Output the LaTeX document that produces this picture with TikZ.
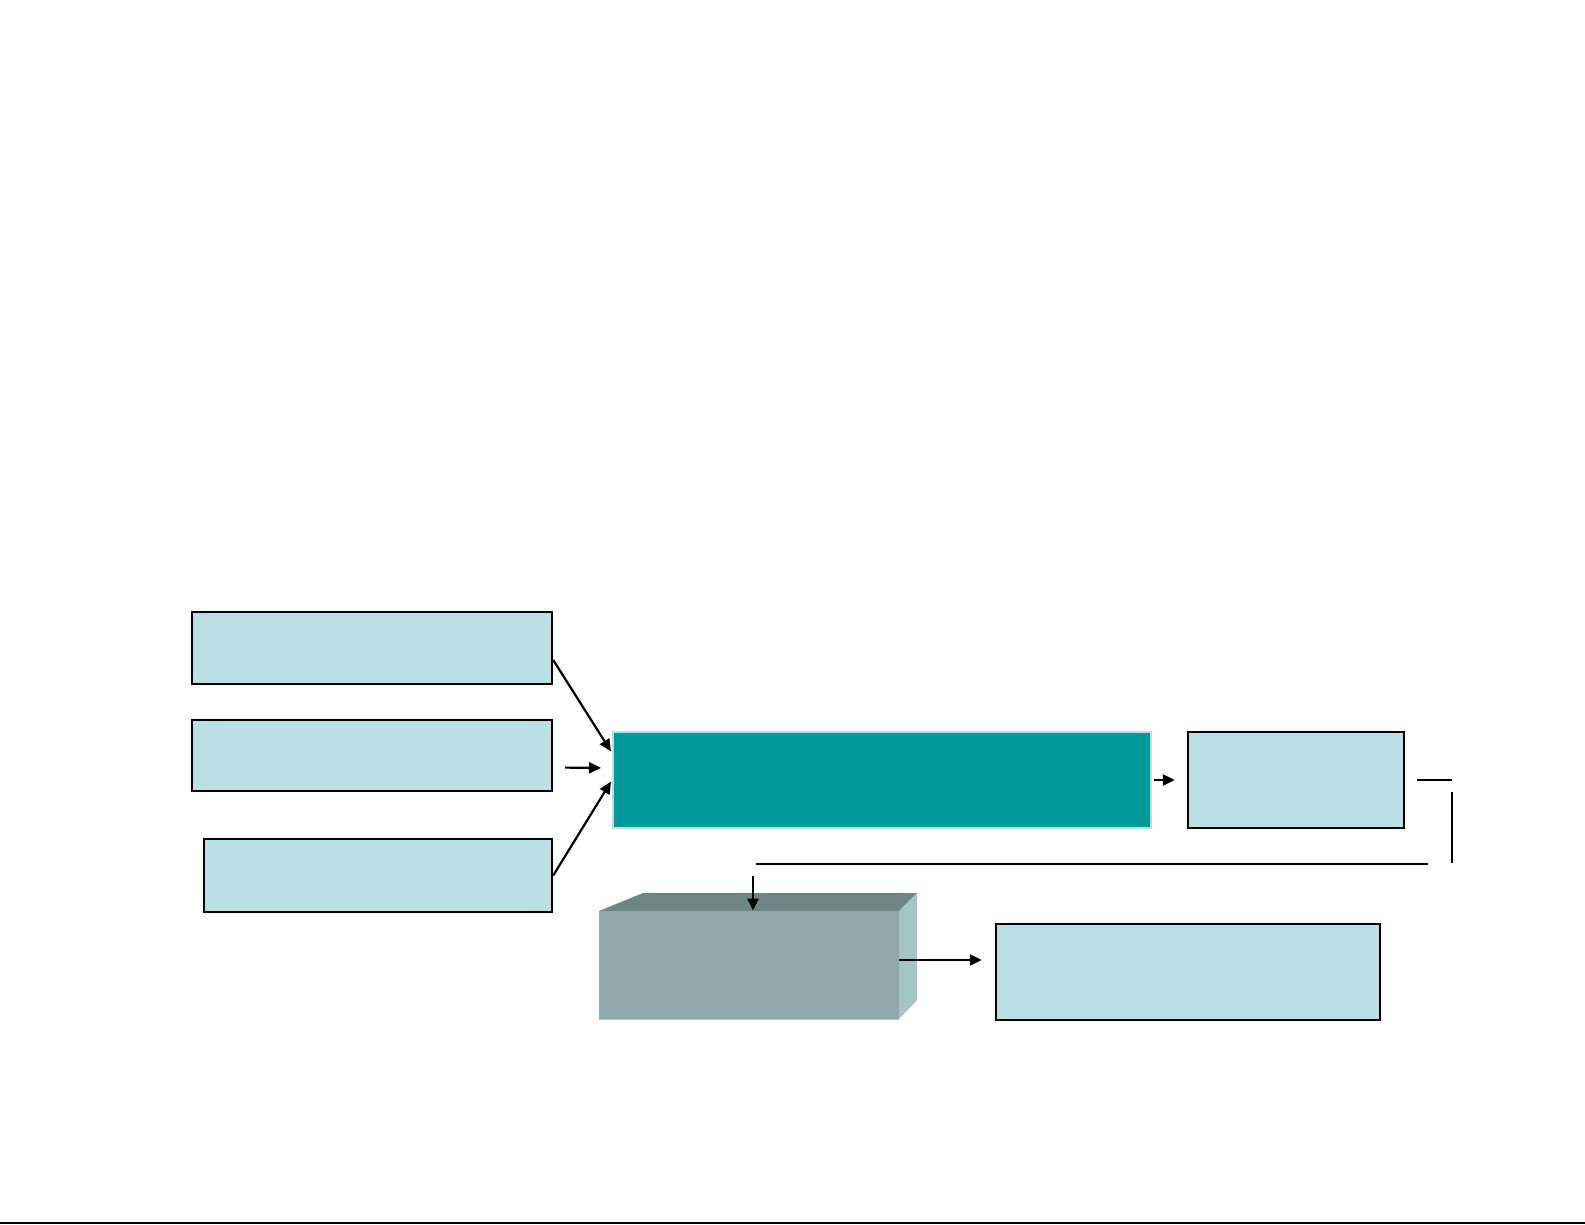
\documentclass[tikz,border=0pt]{standalone}
\usetikzlibrary{arrows.meta}
\definecolor{paleblue}{HTML}{BBE0E3}
\definecolor{tealfill}{HTML}{009999}
\definecolor{slatefront}{HTML}{91A9AC}
\definecolor{slatetop}{HTML}{708686}
\definecolor{slateside}{HTML}{A5C4C6}
\tikzset{
  inbox/.style={draw=black, line width=1.2pt, fill=paleblue, inner sep=0pt},
  arr/.style={line width=1.1pt, -{Triangle[length=6pt,width=5.5pt]}},
  plainline/.style={line width=1.1pt}
}
\begin{document}
\begin{tikzpicture}[x=0.5pt,y=-0.5pt]
\useasboundingbox (0,0) rectangle (1585,1225);
\fill[white] (0,0) rectangle (1585,1225);
\draw[line width=1.2pt] (0,1223) -- (1585,1223);

% input boxes
\node[inbox, minimum width=180pt, minimum height=36pt] (srcA) at (372,648) {};
\node[inbox, minimum width=180pt, minimum height=35.5pt] (srcB) at (372,755.5) {};
\node[inbox, minimum width=174pt, minimum height=36.5pt] (srcC) at (378,875.5) {};

% main box and output
\node[draw=paleblue, line width=1pt, fill=tealfill, minimum width=269pt, minimum height=48pt] (core) at (882,780) {};
\node[inbox, minimum width=108pt, minimum height=48pt] (outbox) at (1296,780) {};

% 3d block
\fill[slatetop] (599,911) -- (643,893) -- (917,893) -- (899,911) -- cycle;
\fill[slateside] (899,911) -- (917,893) -- (917,1000) -- (899,1019) -- cycle;
\node[fill=slatefront, inner sep=0pt, minimum width=150pt, minimum height=54pt] (block) at (749,965) {};
\draw[slateside, line width=0.8pt] (block.south west) -- (block.south east);

\node[inbox, minimum width=192pt, minimum height=48pt] (result) at (1188,972) {};

% connectors
\draw[arr, shorten >=1pt] ([yshift=-6pt]srcA.east) -- ([yshift=13.5pt]core.west);
\draw[arr, shorten <=6pt, shorten >=5.5pt] ([yshift=-6pt]srcB.east) -- ([yshift=6pt]core.west);
\draw[arr, shorten >=1pt] (srcC.east) -- (core.west);
\draw[arr, shorten <=1pt, shorten >=6pt] (core.east) -- (outbox.west);

% feedback path
\coordinate (turnA) at (1452,780);
\coordinate (turnB) at (1452,864);
\coordinate (turnC) at (753,864);
\draw[plainline] ([xshift=6pt]outbox.east) -- (turnA);
\draw[plainline] ([yshift=-6pt]turnA) -- ([yshift=0.5pt]turnB);
\draw[plainline] ([xshift=-12pt]turnB) -- ([xshift=1.5pt]turnC);
\draw[arr] ([yshift=-6pt]turnC) -- (turnC |- block.north);

\draw[arr, shorten >=6.5pt] ([yshift=2.5pt]block.east) -- ([yshift=6pt]result.west);
\end{tikzpicture}
\end{document}
